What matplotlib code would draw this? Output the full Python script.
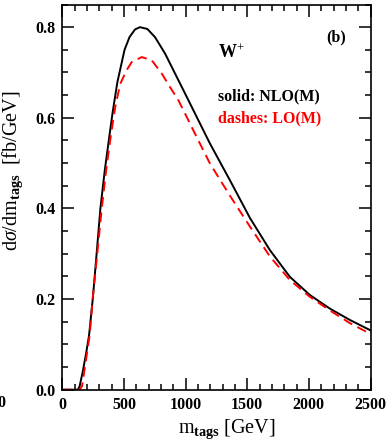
import matplotlib
matplotlib.use("Agg")
import matplotlib.pyplot as plt
from matplotlib.ticker import MultipleLocator, FormatStrFormatter

plt.rcParams['font.family'] = ['Liberation Serif', 'DejaVu Serif']
plt.rcParams['mathtext.fontset'] = 'custom'
plt.rcParams['mathtext.rm'] = 'Liberation Serif'
plt.rcParams['mathtext.bf'] = 'Liberation Serif:bold'
plt.rcParams['mathtext.it'] = 'Liberation Serif:italic'

# NLO(M) solid curve
nlo_m = [0, 125, 140, 166, 193, 217, 247, 274, 309, 345, 382, 410, 447, 505, 545,
         590, 630, 690, 752, 833, 914, 995, 1090, 1198, 1360, 1522, 1684, 1846,
         2008, 2170, 2332, 2500]
nlo_y = [0.0, 0.0, 0.007, 0.04, 0.08, 0.12, 0.2, 0.286, 0.40, 0.485, 0.56, 0.615,
         0.679, 0.750, 0.778, 0.795, 0.80, 0.796, 0.778, 0.742, 0.698, 0.654, 0.602,
         0.543, 0.462, 0.379, 0.308, 0.249, 0.209, 0.179, 0.154, 0.131]

# LO(M) dashed curve
lo_m = [0, 140, 160, 178, 200, 222, 246, 280, 320, 358, 396, 430, 470, 522, 563,
        644, 725, 806, 873, 941, 1009, 1100, 1198, 1360, 1522, 1684, 1846, 2008,
        2170, 2332, 2500]
lo_y = [0.0, 0.0, 0.008, 0.04, 0.08, 0.12, 0.2, 0.29, 0.40, 0.49, 0.565, 0.625,
        0.675, 0.705, 0.723, 0.734, 0.727, 0.698, 0.668, 0.639, 0.602, 0.552, 0.499,
        0.428, 0.36, 0.294, 0.242, 0.205, 0.175, 0.147, 0.123]

W, H = 391, 447
fig = plt.figure(figsize=(W / 100, H / 100), dpi=100)
ax = fig.add_axes([62.3 / W, (H - 389.7) / H, (370.5 - 62.3) / W, (389.7 - 4.5) / H])

ax.plot(nlo_m, nlo_y, color='black', lw=1.4, solid_joinstyle='round')
ax.plot(lo_m, lo_y, color='#ff0000', lw=1.4, dashes=(5, 3))

ax.set_xlim(0, 2500)
ax.set_ylim(0, 0.85)
ax.xaxis.set_major_locator(MultipleLocator(500))
ax.xaxis.set_minor_locator(MultipleLocator(100))
ax.yaxis.set_major_locator(MultipleLocator(0.2))
ax.yaxis.set_minor_locator(MultipleLocator(0.05))
ax.yaxis.set_major_formatter(FormatStrFormatter('%.1f'))
ax.tick_params(which='both', direction='in', top=True, right=True, width=1.1)
ax.tick_params(which='major', length=8.5, labelsize=11.5, pad=5)
ax.tick_params(which='minor', length=4.3)
for lab in ax.get_xticklabels() + ax.get_yticklabels():
    lab.set_fontweight('bold')
for s in ax.spines.values():
    s.set_linewidth(1.2)

ax.set_xlabel(r'$\mathrm{m}_{\mathbf{tags}}$ [GeV]', fontsize=14.5)
ax.set_ylabel(r'$\mathrm{d}\sigma/\mathrm{dm}_{\mathbf{tags}}$  [fb/GeV]', fontsize=14.5)
ax.xaxis.set_label_coords(0.535, -0.072)
ax.yaxis.set_label_coords(-0.122, 0.568)

ax.text(0.505, 0.875, r'$\mathbf{W}^{+}$', transform=ax.transAxes, fontsize=13,
        fontweight='bold', ha='left', va='center')
ax.text(0.92, 0.915, '(b)', transform=ax.transAxes, fontsize=11.5,
        fontweight='bold', ha='right', va='center')
ax.text(0.505, 0.762, 'solid: NLO(M)', transform=ax.transAxes, fontsize=11.5,
        fontweight='bold', ha='left', va='center', color='black')
ax.text(0.505, 0.705, 'dashes: LO(M)', transform=ax.transAxes, fontsize=11.5,
        fontweight='bold', ha='left', va='center', color='#ff0000')

fig.text(1.5 / W, 1 - 403 / H, '0', fontsize=11.5, fontweight='bold',
         ha='center', va='center')

fig.savefig('out.png', dpi=100)
